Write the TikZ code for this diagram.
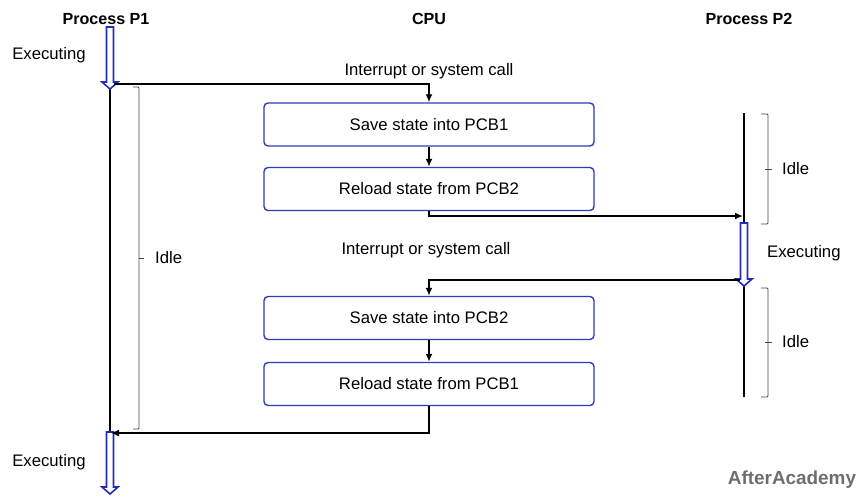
\documentclass[tikz,border=0pt]{standalone}
\usepackage{fontspec}
\setmainfont{Liberation Sans}
\usetikzlibrary{arrows.meta,calc}
\definecolor{exblue}{RGB}{35,45,180}
\definecolor{boxblue}{RGB}{45,60,185}
\definecolor{brgray}{RGB}{70,70,70}
\definecolor{wmgray}{RGB}{110,110,110}
\tikzset{
  lbl/.style={font=\fontsize{16.7}{19}\selectfont, inner sep=0pt},
  ttl/.style={font=\fontsize{16.1}{19}\selectfont\bfseries, inner sep=0pt},
  stepbox/.style={draw=boxblue, line width=1.4pt, rounded corners=4pt, minimum width=330pt, minimum height=43pt, font=\fontsize{16.7}{19}\selectfont, inner sep=0pt},
  flow/.style={line width=1.6pt, -{Latex[length=8pt,width=7pt]}},
  tline/.style={line width=1.8pt},
  brace/.style={draw=brgray, line width=0.9pt, rounded corners=1pt},
  hollow/.style={draw=exblue, line width=1.6pt, fill=white, line join=miter}
}
\newcommand{\hollowarr}[3]{% x, ytop, ytip
  \draw[hollow] (#1-3.5,#2) -- (#1+3.5,#2) -- (#1+3.5,#3-7) -- (#1+8,#3-7) -- (#1,#3) -- (#1-8,#3-7) -- (#1-3.5,#3-7) -- cycle;}
\begin{document}
\begin{tikzpicture}[x=1pt,y=-1pt]
\useasboundingbox (0,0) rectangle (860,496);
% titles
\node[ttl] (t1) at (106,19) {Process P1};
\node[ttl] (t2) at (429,19) {CPU};
\node[ttl] (t3) at (749,19) {Process P2};
% boxes
\node[stepbox] (b1) at (429,124.5) {Save state into PCB1};
\node[stepbox] (b2) at (429,189) {Reload state from PCB2};
\node[stepbox] (b3) at (429,318) {Save state into PCB2};
\node[stepbox] (b4) at (429,384) {Reload state from PCB1};
% timelines
\draw[tline] (110,88) -- (110,433);
\draw[tline] (744,113) -- (744,223);
\draw[tline] (744,285) -- (744,397);
% hollow arrows
\hollowarr{110}{27}{89}
\hollowarr{744}{223}{286}
\hollowarr{110}{432}{494}
% coordinates
\coordinate (p1out) at (114,84);
\coordinate (p2in) at (743,216);
\coordinate (p2out) at (740,280);
\coordinate (p1in) at (111,433);
% connectors
\draw[flow] (p1out) -| (b1.north);
\draw[flow] (b1.south) -- (b2.north);
\draw[flow] (b2.south) |- (p2in);
\draw[flow] (p2out) -| (b3.north);
\draw[flow] (b3.south) -- (b4.north);
\draw[flow] (b4.south) |- (p1in);
% labels
\node[lbl] (e1) at (49,55) {Executing};
\node[lbl] (e2) at (49,462) {Executing};
\node[lbl, anchor=west] (e3) at (767,253) {Executing};
\node[lbl] (i1) at (429,71) {Interrupt or system call};
\node[lbl] (i2) at (426,250) {Interrupt or system call};
% braces
\draw[brace] (133,87) -- (139,87) -- (139,429) -- (133,429);
\draw[brace] (139,258) -- (144,258);
\node[lbl, anchor=west] (d1) at (155,258) {Idle};
\draw[brace] (761,114) -- (768,114) -- (768,224) -- (761,224);
\draw[brace] (765,169) -- (772,169);
\node[lbl, anchor=west] (d2) at (782,169) {Idle};
\draw[brace] (761,288) -- (768,288) -- (768,397) -- (761,397);
\draw[brace] (765,342) -- (772,342);
\node[lbl, anchor=west] (d3) at (782,342) {Idle};
% watermark
\node[font=\fontsize{18.9}{21}\selectfont\bfseries, text=wmgray, inner sep=0pt] (wm) at (792,480) {AfterAcademy};
\end{tikzpicture}
\end{document}
